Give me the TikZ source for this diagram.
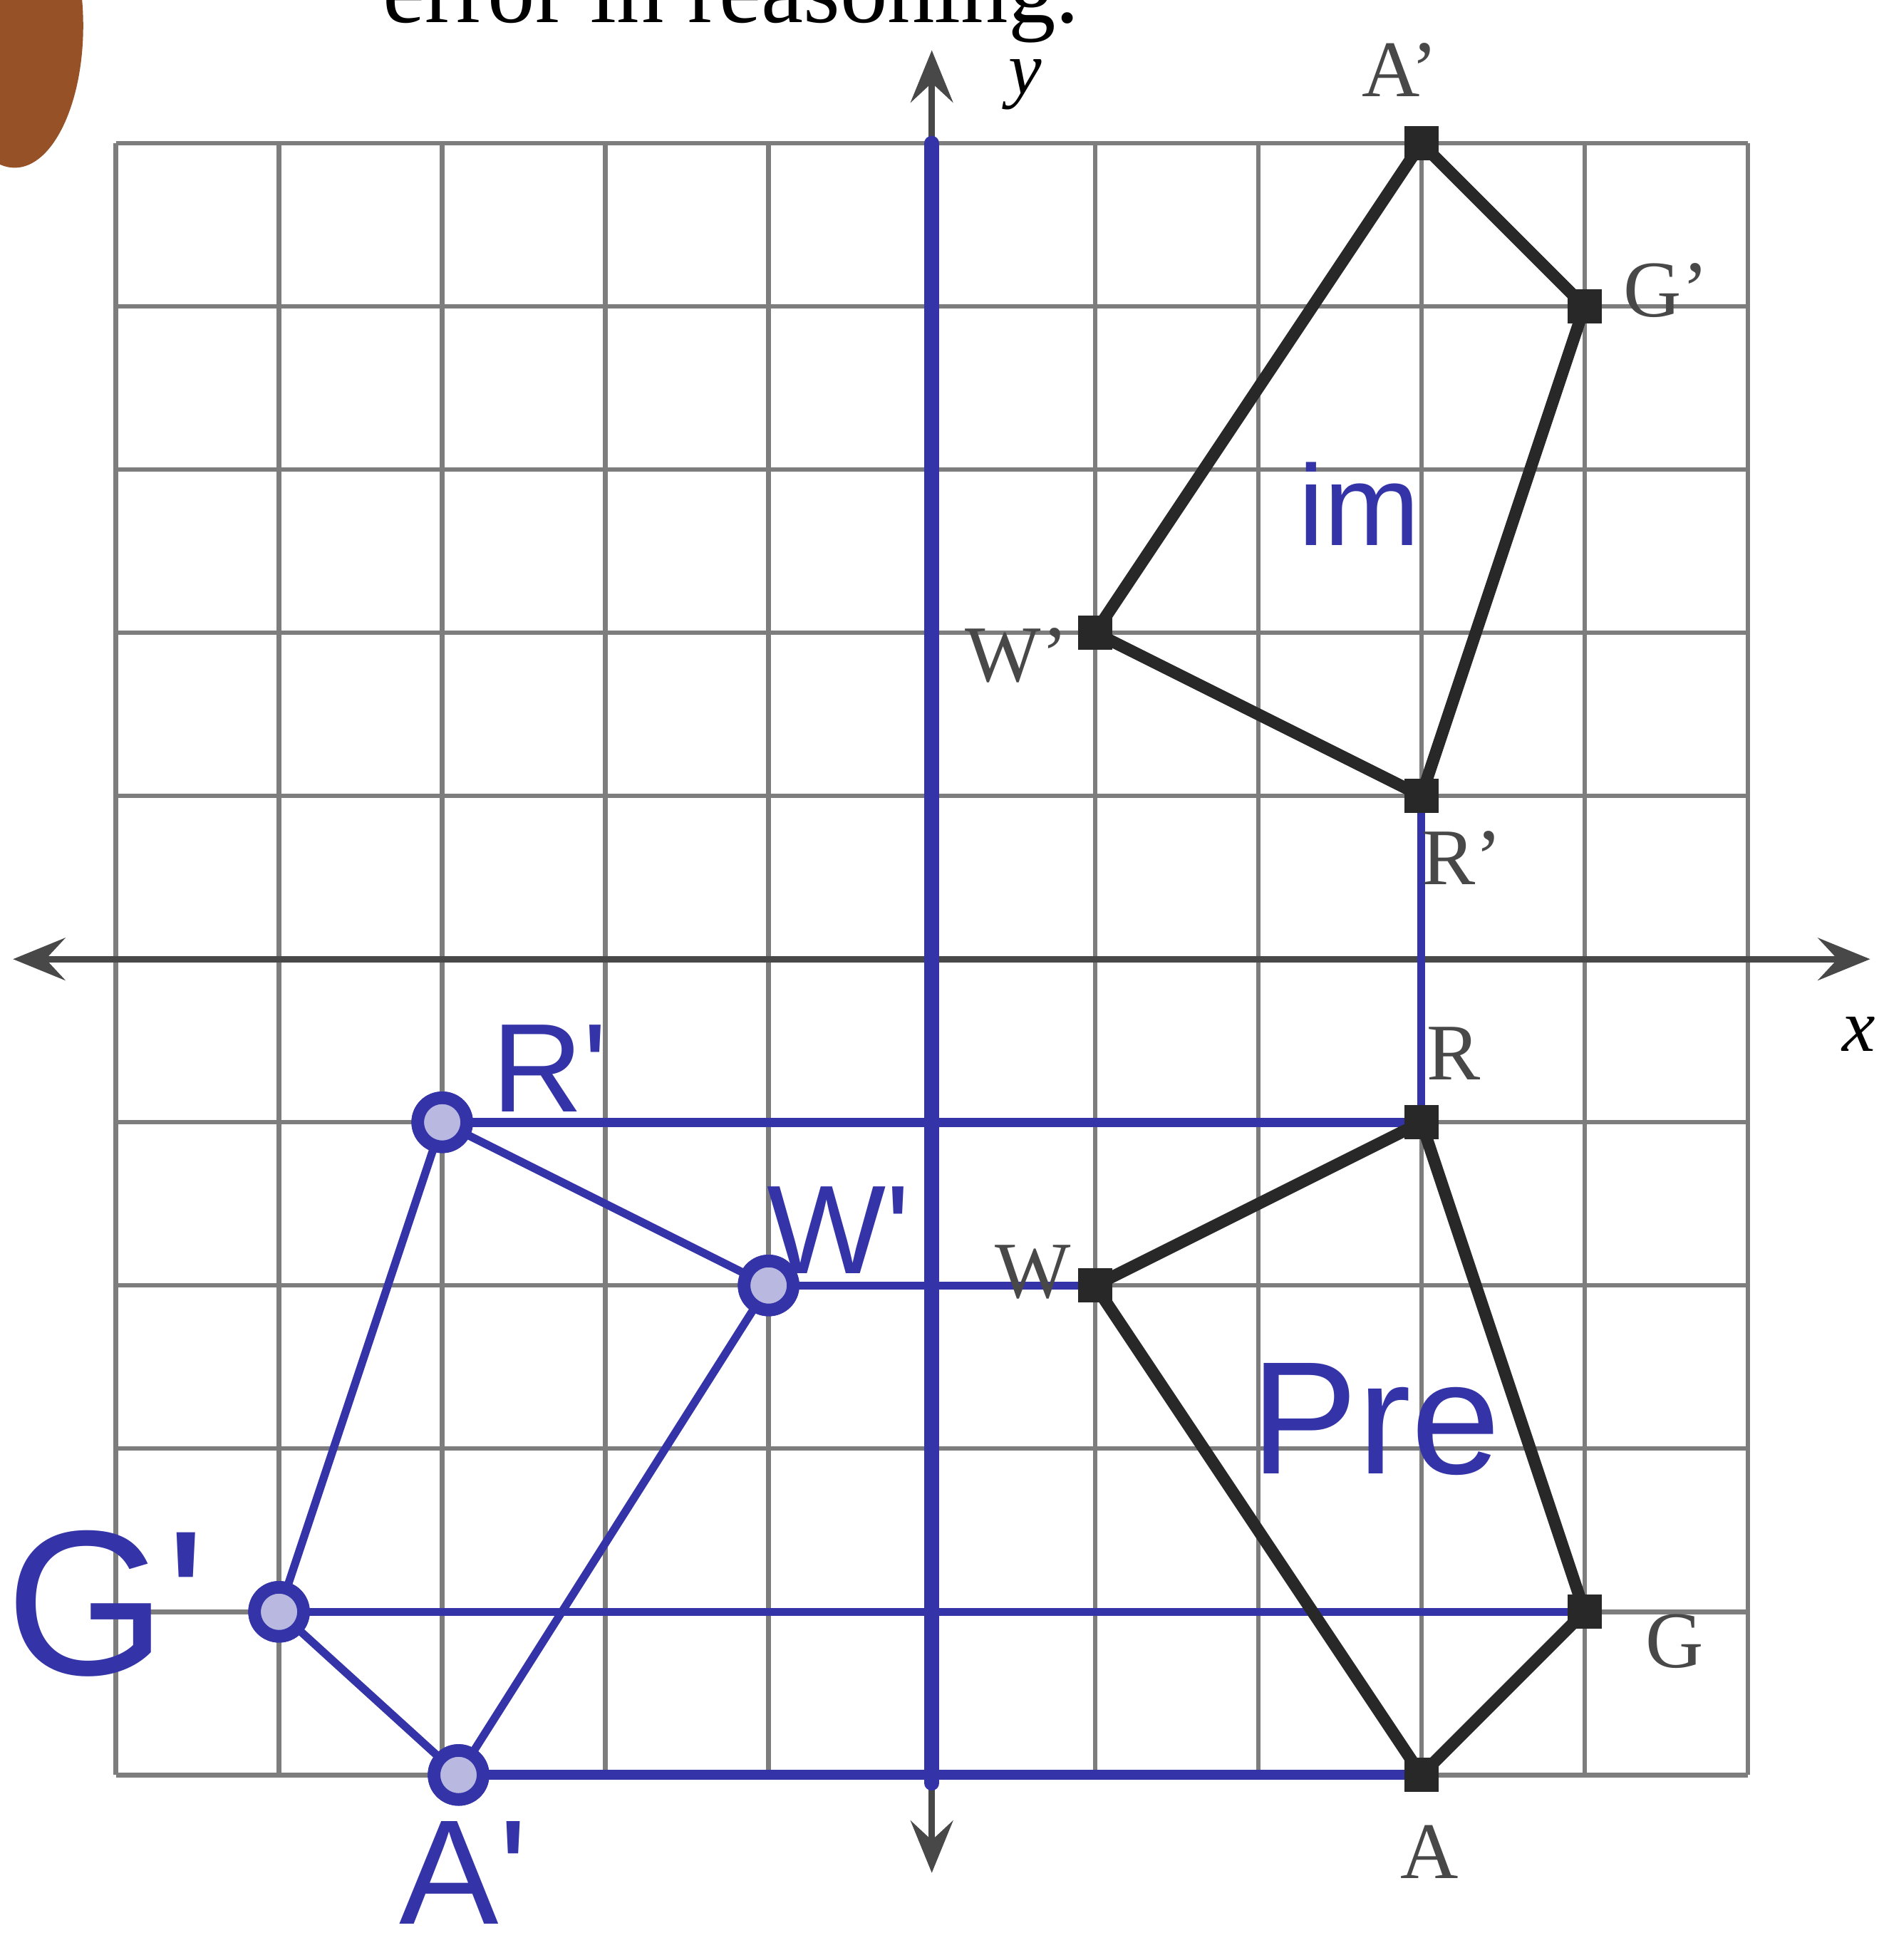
\documentclass[tikz,border=0pt]{standalone}
\usepackage{fontspec}
\setmainfont{Liberation Serif}
\newfontfamily\handfont{Liberation Sans}
\usepackage{tikz}
\usetikzlibrary{arrows.meta}
\definecolor{inkblue}{RGB}{52,52,168}
\definecolor{gridgray}{RGB}{125,125,125}
\definecolor{printblack}{RGB}{40,40,40}
\definecolor{coverbrown}{RGB}{150,82,38}
\tikzset{
  gridln/.style={gridgray,line width=0.8pt},
  axisln/.style={{Stealth[length=3.2mm,width=2.6mm,inset=1.2mm]}-{Stealth[length=3.2mm,width=2.6mm,inset=1.2mm]},
                 printblack!85,line width=1.1pt},
  vtx/.style={rectangle,fill=printblack,minimum size=2.1mm,inner sep=0pt},
  hdot/.style={circle,draw=inkblue,fill=inkblue!35,line width=2.2pt,
               minimum size=3mm,inner sep=0pt},
  fig/.style={printblack,line width=2.1pt,line join=round},
  ink/.style={inkblue,line width=1.4pt,line cap=round},
  plbl/.style={font=\fontsize{14}{14}\selectfont,text=printblack!85,inner sep=1pt},
  hlbl/.style={text=inkblue,font=\handfont\fontsize{22}{22}\selectfont,inner sep=1pt},
  albl/.style={font=\itshape\fontsize{13}{13}\selectfont,inner sep=0pt},
}

\begin{document}
\begin{tikzpicture}
    \clip (-5.71,-6.134) rectangle (5.80,5.878);
    % cut-off icon and question text
    \fill[coverbrown] (-5.62,5.72) ellipse (0.42 and 0.87);
    \node[anchor=base west,inner sep=0pt,font=\fontsize{16.5}{17}\selectfont]
      (head) at (-3.37,5.74) {error in reasoning.};
    % grid and axes
    \draw[gridln] (-5,-5) grid (5,5);
    \coordinate (xl) at (-5.63,0);
    \coordinate (xr) at (5.75,0);
    \coordinate (yb) at (0,-5.6);
    \coordinate (yt) at (0,5.57);
    \draw[axisln] (xl) -- (xr);
    \draw[axisln] (yb) -- (yt);
    \node[albl] (ylab) at (0.57,5.36) {y};
    \node[albl] (xlab) at (5.68,-0.46) {x};
    % pre-image and image
    \node[vtx] (R) at (3,-1) {};
    \node[vtx] (W) at (1,-2) {};
    \node[vtx] (G) at (4,-4) {};
    \node[vtx] (A) at (3,-5) {};
    \node[vtx] (Ri) at (3,1) {};
    \node[vtx] (Wi) at (1,2) {};
    \node[vtx] (Gi) at (4,4) {};
    \node[vtx] (Ai) at (3,5) {};
    % student's reflection
    \node[hdot] (Rs) at (-3,-1) {};
    \node[hdot] (Ws) at (-1,-2) {};
    \node[hdot] (Gs) at (-4,-4) {};
    \node[hdot] (As) at (-2.9,-5) {};
    \coordinate (ytop) at (0,5);
    \coordinate (ybot) at (0,-5.05);
    \draw[ink,line width=2.6pt] (ytop) -- (ybot);
    \draw[ink,line width=1.6pt] (Rs.center) -- (R.center);
    \draw[ink] (Ws.center) -- (W.center);
    \draw[ink] (Gs.center) -- (G.center);
    \draw[ink,line width=1.7pt] (As.center) -- (A.center);
    \draw[ink] (Ri.center) -- (R.center);
    \draw[ink] (Rs.center) -- (Ws.center) -- (As.center) -- (Gs.center) -- cycle;
    \draw[fig] (R.center) -- (W.center) -- (A.center) -- (G.center) -- cycle;
    \draw[fig] (Ri.center) -- (Wi.center) -- (Ai.center) -- (Gi.center) -- cycle;
    \foreach \p in {R,W,G,A,Ri,Wi,Gi,Ai} \node[vtx] at (\p) {};
    \foreach \p in {Rs,Ws,Gs,As} \node[hdot] at (\p) {};
    % printed labels
    \node[plbl] (lAi) at (2.87,5.45) {A'};
    \node[plbl] (lGi) at (4.50,4.10) {G'};
    \node[plbl] (lWi) at (0.52,1.86) {W'};
    \node[plbl] (lRi) at (3.25,0.62) {R'};
    \node[plbl] (lR) at (3.20,-0.58) {R};
    \node[plbl] (lW) at (0.62,-1.92) {W};
    \node[plbl] (lG) at (4.55,-4.18) {G};
    \node[plbl] (lA) at (3.05,-5.47) {A};
    % handwritten labels
    \node[hlbl] (lRs) at (-2.34,-0.67) {R'};
    \node[hlbl] (lWs) at (-0.57,-1.66) {W'};
    \node[hlbl,font=\handfont\fontsize{36}{36}\selectfont] (lGs) at (-5.06,-3.95) {G'};
    \node[hlbl,font=\handfont\fontsize{26}{26}\selectfont] (lAs) at (-2.87,-5.6) {A'};
    \node[hlbl,font=\handfont\fontsize{20}{20}\selectfont] (im) at (2.62,2.79) {im};
    \node[hlbl,font=\handfont\fontsize{28}{28}\selectfont] (pre) at (2.72,-2.82) {Pre};
\end{tikzpicture}
\end{document}
